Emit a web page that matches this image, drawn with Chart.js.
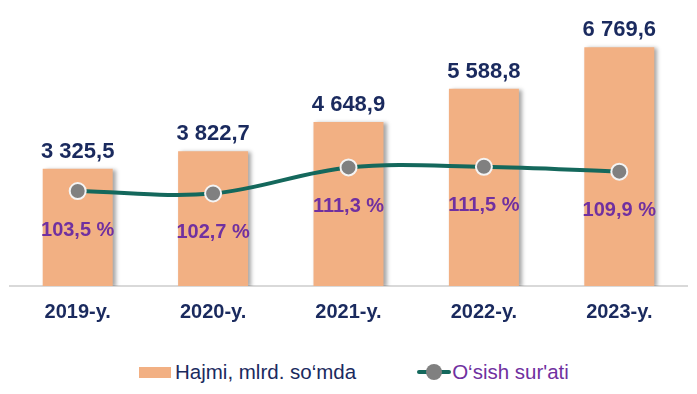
<!DOCTYPE html>
<html>
<head>
<meta charset="utf-8">
<script src="https://cdn.jsdelivr.net/npm/chart.js@4"></script>
<style>
  html, body { margin: 0; padding: 0; background: #fff; }
  #page { position: relative; width: 697px; height: 394px; }
  #wrap { position: absolute; left: 0; top: 0; width: 697px; height: 346px; }
  #legend {
    position: absolute; left: 139px; top: 360px; height: 24px;
    display: flex; align-items: center;
    font-family: "Liberation Sans", Arial, sans-serif; font-size: 20.5px;
  }
  .item { display: flex; align-items: center; white-space: nowrap; }
  .box { width: 32px; height: 11px; background: #f2b083; margin-right: 4px; }
  .mark { position: relative; width: 34px; height: 18px; margin-right: 1px; }
  .mark .ln { position: absolute; left: 0; right: 0; top: 7px; height: 4px; background: #14685c; border-radius: 2px; }
  .mark .dot { position: absolute; left: 9px; top: 1px; width: 16px; height: 16px; border-radius: 50%; background: #808080; }
</style>
</head>
<body>
<div id="page">
  <div id="wrap"><canvas id="chartHajm"></canvas></div>
  <div id="legend"></div>
</div>
<script>
// --- data ---
const years = ['2019-y.', '2020-y.', '2021-y.', '2022-y.', '2023-y.'];
const hajmi = [3325.5, 3822.7, 4648.9, 5588.8, 6769.6];
const osish = [103.5, 102.7, 111.3, 111.5, 109.9];
const hajmiLabel = 'Hajmi, mlrd. so\u2018mda';
const osishLabel = 'O\u2018sish sur\'ati';

const FONT = '"Liberation Sans", Arial, sans-serif';
const NAVY = '#1a2a5e';
const PURPLE = '#7030a0';
const TEAL = '#14685c';
const ORANGE = '#f2b083';

// number like 3 325,5
function fmt(v) {
    const parts = v.toFixed(1).split('.');
    return parts[0].replace(/\B(?=(\d{3})+(?!\d))/g, ' ') + ',' + parts[1];
}

// --- legend (html) ---
const legend = document.getElementById('legend');
legend.innerHTML =
    '<div class="item"><span class="box"></span><span style="color:' + NAVY + '"></span></div>' +
    '<div class="item" style="margin-left:61px"><span class="mark"><span class="ln"></span><span class="dot"></span></span><span style="color:' + PURPLE + '"></span></div>';
const texts = legend.querySelectorAll('.item > span:last-child');
texts[0].textContent = hajmiLabel;
texts[1].textContent = osishLabel;

// bar shadow + value labels
const labelPlugin = {
    id: 'labels',
    beforeDatasetDraw(chart, args) {
        if (args.index === 1) {
            const ctx = chart.ctx;
            ctx.save();
            ctx.shadowColor = 'rgba(0,0,0,0.35)';
            ctx.shadowOffsetX = 3;
            ctx.shadowOffsetY = 1;
            ctx.shadowBlur = 4;
        }
    },
    afterDatasetDraw(chart, args) {
        if (args.index === 1) chart.ctx.restore();
    },
    afterDatasetsDraw(chart) {
        const ctx = chart.ctx;
        ctx.save();
        ctx.textAlign = 'center';
        ctx.textBaseline = 'alphabetic';
        ctx.fillStyle = NAVY;
        ctx.font = 'bold 22px ' + FONT;
        chart.getDatasetMeta(1).data.forEach((bar, i) => {
            ctx.fillText(fmt(hajmi[i]), bar.x, bar.y - 11);
        });
        ctx.fillStyle = PURPLE;
        ctx.font = 'bold 20px ' + FONT;
        ctx.textBaseline = 'middle';
        chart.getDatasetMeta(0).data.forEach((pt, i) => {
            ctx.fillText(osish[i].toFixed(1).replace('.', ',') + ' %', pt.x, pt.y + 39);
        });
        ctx.restore();
    }
};

const ctx = document.getElementById('chartHajm');
new Chart(ctx, {
    data: {
        labels: years,
        datasets: [
            {
                type: 'line',
                label: osishLabel,
                data: osish,
                yAxisID: 'y2',
                borderColor: TEAL,
                borderWidth: 4,
                tension: 0.35,
                pointRadius: 8,
                pointBorderWidth: 2,
                pointBackgroundColor: '#808080',
                pointBorderColor: '#f4f4f4',
                order: 0
            },
            {
                type: 'bar',
                label: hajmiLabel,
                data: hajmi,
                yAxisID: 'y',
                backgroundColor: ORANGE,
                categoryPercentage: 1,
                barPercentage: 0.517,
                order: 1
            }
        ]
    },
    options: {
        responsive: true,
        maintainAspectRatio: false,
        animation: false,
        layout: { padding: { left: 10, right: 9, top: 20, bottom: 8 } },
        scales: {
            x: {
                grid: { display: false, drawTicks: false },
                border: { color: '#d9d9d9', width: 2 },
                ticks: {
                    color: NAVY,
                    font: { family: FONT, size: 20, weight: 'bold' },
                    padding: 14
                }
            },
            y: {
                display: false,
                min: 0,
                max: 7540
            },
            y2: {
                display: false,
                min: 72.2,
                max: 159.9
            }
        },
        plugins: {
            tooltip: { enabled: false },
            legend: { display: false }
        }
    },
    plugins: [labelPlugin]
});
</script>
</body>
</html>
